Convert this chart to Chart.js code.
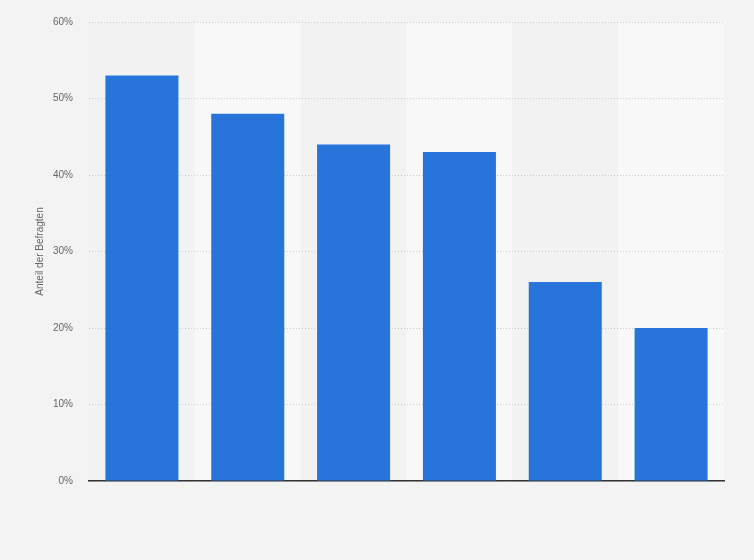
<!DOCTYPE html>
<html>
<head>
<meta charset="utf-8">
<script src="https://cdn.jsdelivr.net/npm/chart.js@4/dist/chart.umd.min.js"></script>
<style>
html,body{margin:0;padding:0;background:#f3f3f3;}
#wrap{width:754px;height:560px;}
</style>
</head>
<body>
<div id="wrap"><canvas id="c" width="754" height="560"></canvas></div>
<script>
const categories = ["1", "2", "3", "4", "5", "6"];
const values = [53, 48, 44, 43, 26, 20];
const yTicks = [0, 10, 20, 30, 40, 50, 60];
const yTitle = "Anteil der Befragten";

const stripes = {
  id: 'stripes',
  beforeDraw(chart) {
    const {ctx, chartArea, scales} = chart;
    ctx.save();
    ctx.fillStyle = '#f3f3f3';
    ctx.fillRect(0, 0, chart.width, chart.height);
    if (chartArea && scales.x) {
      const n = categories.length;
      const w = (chartArea.right - chartArea.left) / n;
      for (let i = 0; i < n; i++) {
        const cx = scales.x.getPixelForValue(i);
        ctx.fillStyle = i % 2 === 0 ? '#f2f2f2' : '#f8f8f8';
        ctx.fillRect(cx - w / 2, chartArea.top, w, chartArea.bottom - chartArea.top);
      }
    }
    ctx.restore();
  }
};

new Chart(document.getElementById('c'), {
  type: 'bar',
  plugins: [stripes],
  data: {
    labels: categories,
    datasets: [{
      data: values,
      backgroundColor: '#2775db',
      borderWidth: 0,
      barPercentage: 0.69,
      categoryPercentage: 1.0
    }]
  },
  options: {
    responsive: false,
    animation: false,
    devicePixelRatio: 1,
    layout: { padding: { top: 19, right: 30, left: 0, bottom: 0 } },
    plugins: { legend: { display: false }, tooltip: { enabled: false } },
    scales: {
      x: {
        grid: { display: false, drawTicks: false },
        border: { display: true, color: '#333333', width: 1.5 },
        ticks: { display: false },
        afterFit(s) { s.height = 79; }
      },
      y: {
        min: 0, max: 60,
        afterBuildTicks(s) { s.ticks = yTicks.map(v => ({ value: v })); },
        ticks: {
          padding: 16,
          color: '#666666',
          font: { family: 'Liberation Sans, Arial, sans-serif', size: 10 },
          callback: v => v + '%'
        },
        grid: {
          color: '#cccccc',
          lineWidth: 1,
          drawTicks: false
        },
        border: { display: false, dash: [1, 2] },
        title: {
          display: true,
          text: yTitle,
          color: '#666666',
          font: { family: 'Liberation Sans, Arial, sans-serif', size: 10 },
          padding: { top: 34, bottom: 0 }
        },
        afterFit(s) { s.width = 89; }
      }
    }
  }
});
</script>
</body>
</html>
